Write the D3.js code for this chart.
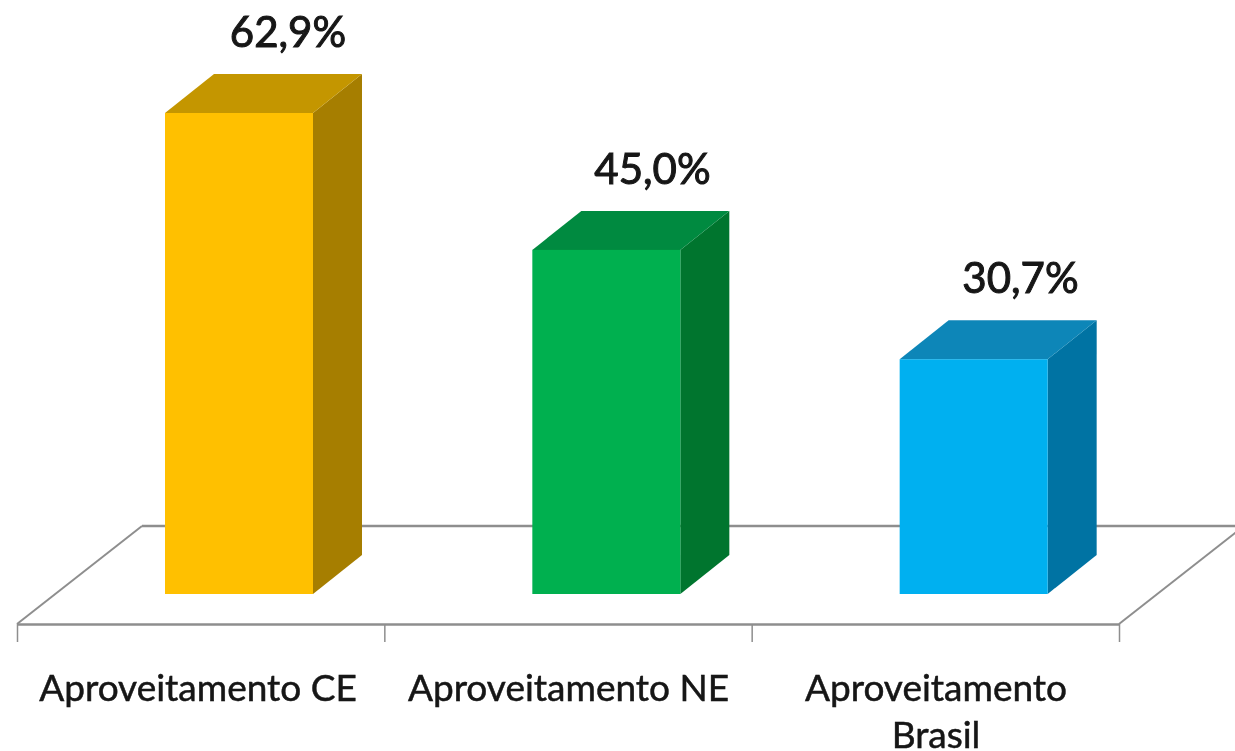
<!DOCTYPE html>
<html><head><meta charset="utf-8">
<script src="https://cdn.jsdelivr.net/npm/d3@7/dist/d3.min.js"></script>
<style>
html,body{margin:0;padding:0;background:#fff;overflow:hidden}
svg{display:block}
text{font-family:Lato,"Open Sans",sans-serif;fill:#141414}
</style></head><body><div id="c"></div>
<script>
const categories = [["Aproveitamento CE"],["Aproveitamento NE"],["Aproveitamento","Brasil"]];
const values = [62.9,45.0,30.7];
const valueLabels = ["62,9%","45,0%","30,7%"];
const frontColors = ["#FFC000","#00B050","#00B0F0"];
const topColors = ["#C49600","#008A3F","#0A86B8"];
const sideColors = ["#A67E00","#00742F","#0073A3"];

const W=1235,H=751;
const svg=d3.select("#c").append("svg").attr("width",W).attr("height",H);
const defs=svg.append("defs");
defs.append("filter").attr("id","soft").append("feGaussianBlur").attr("stdDeviation",0.5);

const x=d3.scaleLinear().domain([0,3]).range([17,1119]);
const y=d3.scaleLinear().domain([0,62.9]).range([594,113]);
const barOffset=148,barW=148,dx=49,dy=-39;
const floorY=624,backY=526,floorDx=125;
const gridColor="#8e8e8e";

const root=svg.append("g").attr("filter","url(#soft)");
const floor=root.append("g");
floor.append("line").attr("x1",x(0)).attr("y1",floorY).attr("x2",x(0)+floorDx).attr("y2",backY)
  .attr("stroke",gridColor).attr("stroke-width",2);
floor.append("line").attr("x1",x(0)+floorDx).attr("y1",backY).attr("x2",W).attr("y2",backY)
  .attr("stroke",gridColor).attr("stroke-width",2.5);
floor.append("line").attr("x1",x(3)).attr("y1",floorY).attr("x2",x(3)+floorDx).attr("y2",backY)
  .attr("stroke",gridColor).attr("stroke-width",2);

const axis=d3.axisBottom(x).tickValues([0,1,2,3]).tickSize(18).tickSizeOuter(0).tickFormat("");
const ax=root.append("g").attr("transform",`translate(0,${floorY})`).call(axis);
ax.select(".domain").attr("stroke",gridColor).attr("stroke-width",2.5);
ax.selectAll(".tick line").attr("stroke",gridColor).attr("stroke-width",1.5);

const bars=root.selectAll("g.bar").data(values).join("g").attr("class","bar");
const line=d3.line();
bars.append("path").attr("fill",(d,i)=>sideColors[i]).attr("d",(d,i)=>{
  const r=x(i)+barOffset+barW;
  return line([[r,y(d)],[r+dx,y(d)+dy],[r+dx,y(0)+dy],[r,y(0)]])+"Z";
});
bars.append("path").attr("fill",(d,i)=>topColors[i]).attr("d",(d,i)=>{
  const l=x(i)+barOffset,r=l+barW;
  return line([[l,y(d)],[l+dx,y(d)+dy],[r+dx,y(d)+dy],[r,y(d)]])+"Z";
});
bars.append("rect").attr("fill",(d,i)=>frontColors[i])
  .attr("x",(d,i)=>x(i)+barOffset).attr("y",d=>y(d)).attr("width",barW).attr("height",d=>y(0)-y(d));

const valueCenters=[288,652.5,1020.5];
root.selectAll("text.val").data(values).join("text").attr("class","val")
  .attr("x",(d,i)=>valueCenters[i]).attr("y",d=>y(d)-66)
  .attr("text-anchor","middle").attr("font-size",42).attr("font-weight",400)
  .attr("stroke","#141414").attr("stroke-width",1)
  .text((d,i)=>valueLabels[i]);

const labelCenters=[198,568.5,936];
const labs=root.selectAll("text.cat").data(categories).join("text").attr("class","cat")
  .attr("text-anchor","middle").attr("font-size",37).attr("font-weight",400)
  .attr("stroke","#141414").attr("stroke-width",0.5);
labs.each(function(d,i){
  d3.select(this).selectAll("tspan").data(d).join("tspan")
    .attr("x",labelCenters[i]).attr("y",(t,j)=>701+j*47).text(t=>t);
});
</script></body></html>
